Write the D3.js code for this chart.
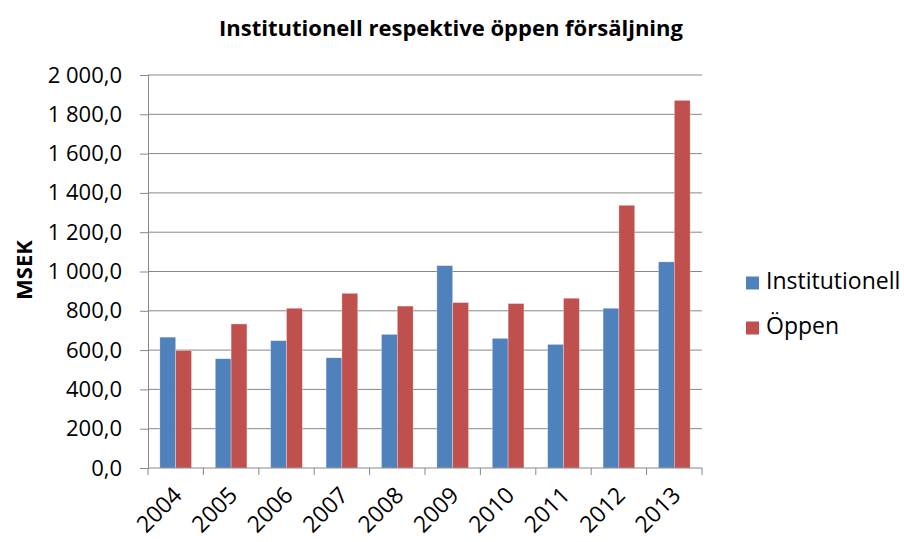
<!DOCTYPE html>
<html>
<head>
<meta charset="utf-8">
<script src="https://cdn.jsdelivr.net/npm/d3@7"></script>
<style>
  body { margin: 0; background: #fff; }
  text { font-family: "Open Sans", "Noto Sans", sans-serif; fill: #000; }
</style>
</head>
<body>
<svg id="chart" width="904" height="542"></svg>
<script>
const years = ["2004", "2005", "2006", "2007", "2008", "2009", "2010", "2011", "2012", "2013"];
const seriesNames = ["Institutionell", "Öppen"];
const institutionell = [666, 556, 648, 561, 680, 1030, 660, 629, 813, 1049];
const oppen = [598, 733, 813, 889, 824, 842, 837, 864, 1337, 1871];
const yTicks = [0, 200, 400, 600, 800, 1000, 1200, 1400, 1600, 1800, 2000];

const COLORS = ["#4F81BD", "#C0504D"];

const svg = d3.select("#chart");
const plot = {left: 148, right: 702, top: 75, bottom: 468};

const x = d3.scaleBand().domain(years).range([plot.left, plot.right]);
const inner = d3.scaleBand().domain(seriesNames)
    .range([0, x.bandwidth() * 2 / 3.5])
    .paddingInner(0);
const y = d3.scaleLinear().domain([0, 2000]).range([plot.bottom, plot.top]);

// swedish number format: "1 800,0"
const fmt = v => d3.format(",.1f")(v).replace(/,/g, " ").replace(".", ",");

// gridlines
svg.append("g")
    .selectAll("line")
    .data(yTicks.slice(1))
    .join("line")
    .attr("x1", plot.left).attr("x2", plot.right)
    .attr("y1", d => y(d)).attr("y2", d => y(d))
    .attr("stroke", "#878787").attr("stroke-width", 1);

// bars
const groups = svg.append("g")
    .selectAll("g")
    .data(years.map((yr, i) => ({year: yr, vals: [institutionell[i], oppen[i]]})))
    .join("g")
    .attr("transform", d => `translate(${x(d.year) + (x.bandwidth() - inner.range()[1]) / 2},0)`);

groups.selectAll("rect")
    .data(d => d.vals.map((v, k) => ({name: seriesNames[k], v: v, k: k})))
    .join("rect")
    .attr("x", d => inner(d.name))
    .attr("width", inner.bandwidth())
    .attr("y", d => y(d.v))
    .attr("height", d => y(0) - y(d.v))
    .attr("fill", d => COLORS[d.k])
    .attr("stroke", "rgba(255,255,255,0.5)")
    .attr("stroke-width", 0.6);

// y axis
const yAxis = svg.append("g")
    .attr("transform", `translate(${plot.left},0)`)
    .call(d3.axisLeft(y).tickValues(yTicks).tickFormat(fmt).tickSize(8).tickPadding(18));
yAxis.select(".domain").attr("stroke", "#878787");
yAxis.selectAll(".tick line").attr("stroke", "#878787");
yAxis.selectAll(".tick text")
    .style("font-size", "22px")
    .style("font-family", "'Open Sans', sans-serif")
    .attr("fill", "#000");

// x axis: ticks at category boundaries
const xAxis = svg.append("g").attr("transform", `translate(0,${plot.bottom})`);
xAxis.append("line")
    .attr("x1", plot.left).attr("x2", plot.right)
    .attr("stroke", "#878787");
xAxis.selectAll("line.tk")
    .data(years.concat(["end"]))
    .join("line")
    .attr("class", "tk")
    .attr("x1", (d, i) => plot.left + i * x.step())
    .attr("x2", (d, i) => plot.left + i * x.step())
    .attr("y1", 0).attr("y2", 7)
    .attr("stroke", "#878787");
xAxis.selectAll("text")
    .data(years)
    .join("text")
    .attr("transform", d => `translate(${x(d) + x.bandwidth() / 2 + 2},${23}) rotate(-45)`)
    .attr("text-anchor", "end")
    .attr("dy", "0.35em")
    .style("font-size", "23px")
    .text(d => d);

// title
svg.append("text")
    .attr("x", 451).attr("y", 36)
    .attr("text-anchor", "middle")
    .style("font-size", "22px")
    .style("font-weight", "bold")
    .text("Institutionell respektive öppen försäljning");

// y axis title
svg.append("text")
    .attr("transform", `translate(32,${270}) rotate(-90)`)
    .attr("text-anchor", "middle")
    .style("font-size", "22px")
    .style("font-weight", "bold")
    .text("MSEK");

// legend
const legend = svg.append("g").attr("transform", "translate(746,283)");
const item = legend.selectAll("g")
    .data(seriesNames)
    .join("g")
    .attr("transform", (d, i) => `translate(0,${i * 45})`);
item.append("rect")
    .attr("x", 0).attr("y", -6.5)
    .attr("width", 13).attr("height", 13)
    .attr("fill", (d, i) => COLORS[i]);
item.append("text")
    .attr("x", 20).attr("y", 6)
    .style("font-size", "23px")
    .text(d => d);
</script>
</body>
</html>
